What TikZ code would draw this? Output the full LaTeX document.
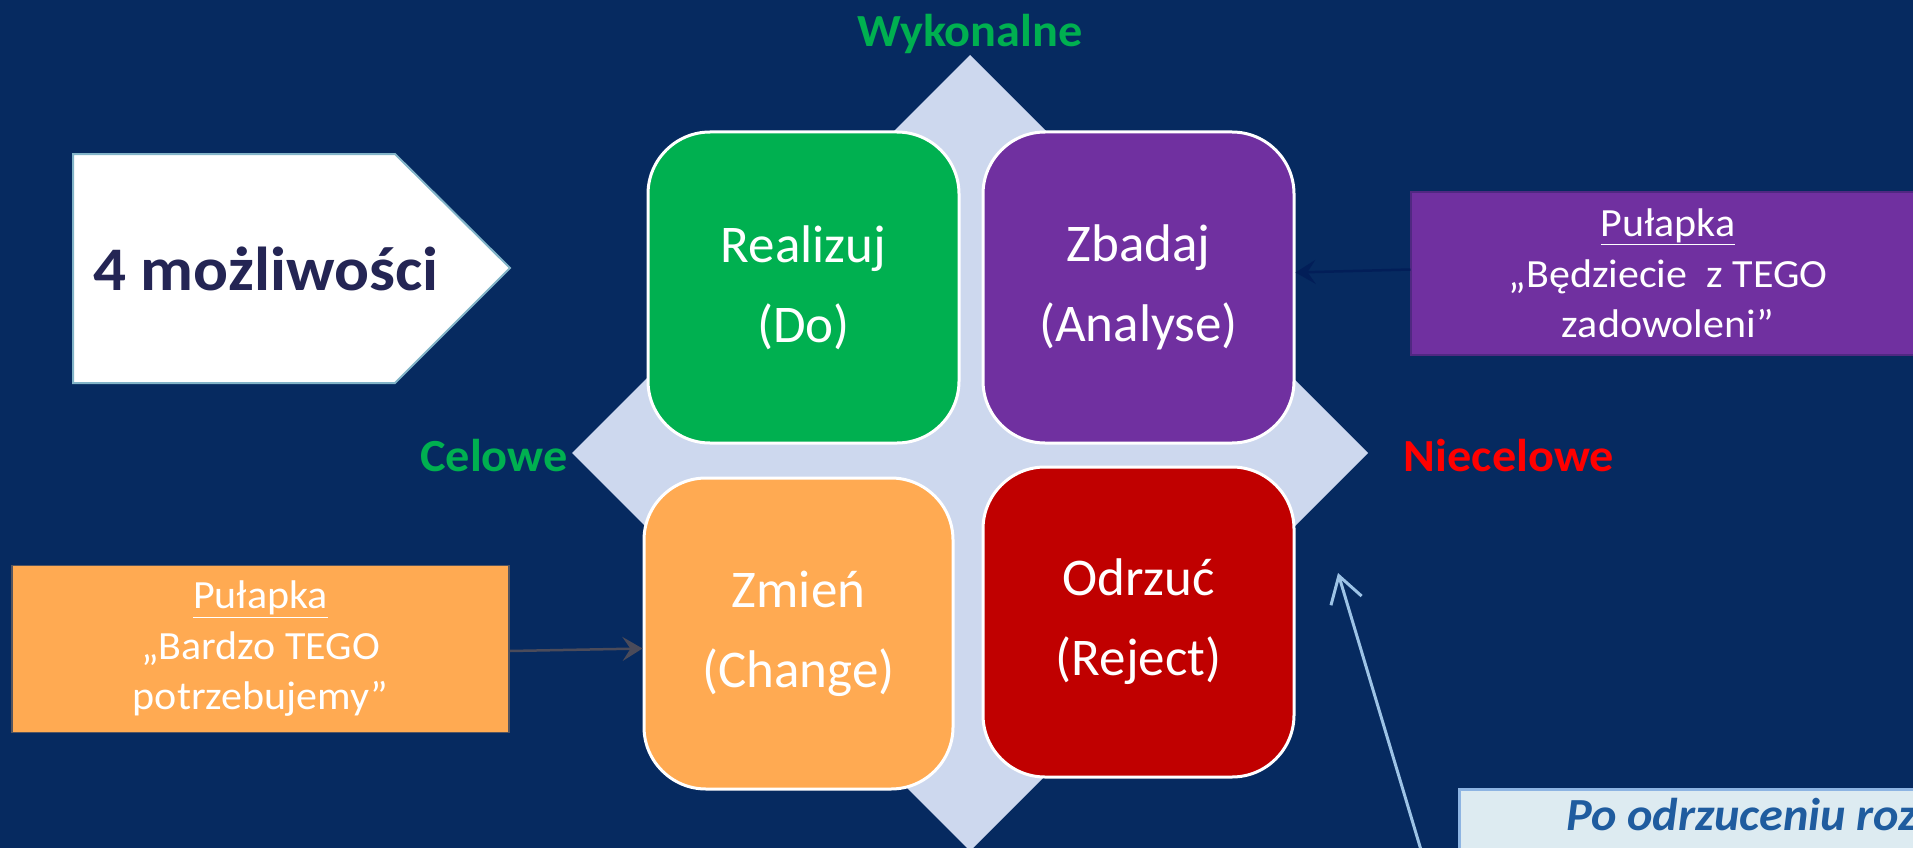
\documentclass[tikz,border=0pt]{standalone}
\usepackage{fontspec}
\setmainfont{Carlito}
\newfontfamily\widefont[FakeStretch=1.05]{Carlito}
\usetikzlibrary{arrows.meta,calc}
\definecolor{bgnavy}{RGB}{6,42,96}
\definecolor{diamondfill}{RGB}{205,216,238}
\definecolor{qgreen}{RGB}{0,176,80}
\definecolor{qpurple}{RGB}{112,48,160}
\definecolor{qorange}{RGB}{255,170,82}
\definecolor{qred}{RGB}{192,0,0}
\definecolor{lblgreen}{RGB}{0,176,80}
\definecolor{lblred}{RGB}{255,0,0}
\definecolor{titlenavy}{RGB}{36,37,84}
\definecolor{pentborder}{RGB}{130,180,200}
\definecolor{pborder}{RGB}{80,40,130}
\definecolor{oborder}{RGB}{85,85,95}
\definecolor{arrnavy}{RGB}{2,30,88}
\definecolor{arrgray}{RGB}{75,75,90}
\definecolor{lightarrow}{RGB}{157,195,230}
\definecolor{bbborder}{RGB}{141,180,226}
\definecolor{bbfill}{RGB}{221,235,241}
\definecolor{bbtext}{RGB}{31,92,159}
\tikzset{
  qbox/.style={rectangle, rounded corners=62pt, draw=white, line width=3pt, text=white,
    align=center, font=\fontsize{53}{80}\selectfont, inner sep=0pt},
  axislbl/.style={font=\widefont\bfseries\fontsize{46}{50}\selectfont, inner sep=0pt},
  callout/.style={rectangle, line width=1.5pt, text=white, align=center,
    font=\widefont\fontsize{40}{50.5}\selectfont, inner sep=0pt},
  pointer/.style={line width=2.5pt, -{Stealth[length=20pt,width=24pt,inset=8pt]}},
}
\begin{document}
\begin{tikzpicture}[x=1pt,y=-1pt]
\useasboundingbox (0,0) rectangle (1913,848);
\clip (0,0) rectangle (1913,848);
\fill[bgnavy] (0,0) rectangle (1913,848);
% diamond
\fill[diamondfill] (970,55) -- (1368,453) -- (970,851) -- (572,453) -- cycle;
% quadrant boxes
\node[qbox, fill=qgreen, minimum width=311pt, minimum height=311pt] (realizuj) at (803.5,287.5) {Realizuj\\(Do)};
\node[qbox, fill=qpurple, minimum width=311pt, minimum height=311pt] (zbadaj) at (1138.5,287.5) {Zbadaj\\(Analyse)};
\node[qbox, fill=qorange, minimum width=309pt, minimum height=311pt] (zmien) at (798.5,633.5) {Zmień\\(Change)};
\node[qbox, fill=qred, minimum width=311pt, minimum height=310pt] (odrzuc) at (1138.5,622) {Odrzuć\\(Reject)};
% axis labels
\node[axislbl, text=lblgreen, anchor=base] (wyk) at (970,47) {Wykonalne};
\node[axislbl, text=lblgreen, anchor=base] (cel) at (494,471) {Celowe};
\node[axislbl, text=lblred, anchor=base] (niecel) at (1509,471) {Niecelowe};
% title arrow
\draw[line width=2pt, draw=pentborder, fill=white] (73,154) -- (395,154) -- (510,268) -- (395,383) -- (73,383) -- cycle;
\node[font=\widefont\bfseries\fontsize{62}{70}\selectfont, text=titlenavy, anchor=base west, inner sep=0pt] (title) at (93,290) {4 możliwości};
% callouts
\node[callout, fill=qpurple, draw=pborder, minimum width=514pt, minimum height=163pt] (pcall) at (1668,273.5)
  {\underline{Pułapka}\\„Będziecie~ z TEGO\\zadowoleni”};
\node[callout, fill=qorange, draw=oborder, minimum width=497pt, minimum height=167pt] (ocall) at (260.5,649)
  {\underline{Pułapka}\\„Bardzo TEGO\\potrzebujemy”};
\draw[pointer, draw=arrnavy, fill=arrnavy] ($(pcall.west)+(0,-4)$) -- ($(zbadaj.east)+(0,-15)$);
\draw[pointer, draw=arrgray, fill=arrgray] ($(ocall.east)+(0,2)$) -- ($(zmien.west)+(0,15)$);
% bottom note
\node[draw=bbborder, fill=bbfill, line width=3pt, minimum width=600pt, minimum height=120pt, anchor=north west] (bbox) at (1458,788) {};
\node[font=\widefont\bfseries\itshape\fontsize{46}{50}\selectfont, text=bbtext, anchor=base west, inner sep=0pt] (bbtxt) at (1566,830) {Po odrzuceniu roz};
\coordinate (lbstart) at (1427,870);
\coordinate (lbtip) at (1338,573);
\draw[line width=3pt, draw=lightarrow, -{Straight Barb[length=26pt,width=32pt]}] (lbstart) -- (lbtip);
\end{tikzpicture}
\end{document}
